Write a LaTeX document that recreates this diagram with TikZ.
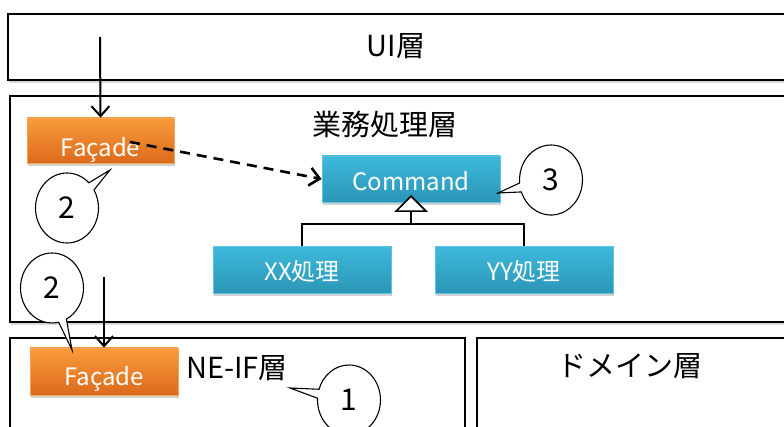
\documentclass[tikz,border=0pt]{standalone}
\usepackage{fontspec}
\setmainfont{Noto Sans CJK JP}
\usetikzlibrary{arrows.meta,shadows,shapes.callouts,shapes.geometric}
\definecolor{otop}{HTML}{F99B3B}
\definecolor{obot}{HTML}{DC6A1C}
\definecolor{oline}{HTML}{F3A45A}
\definecolor{btop}{HTML}{3EB9DB}
\definecolor{bbot}{HTML}{2B95B6}
\definecolor{bline}{HTML}{5CC4E0}
\tikzset{
  layer/.style={draw=black, line width=1.5pt, fill=white,
    drop shadow={opacity=0.3, shadow xshift=0.5pt, shadow yshift=-3pt}},
  laytext/.style={font=\fontsize{29}{32}\selectfont, inner sep=0pt},
  obox/.style={draw=oline, line width=0.8pt, top color=otop, bottom color=obot,
    text=white, minimum width=147pt, minimum height=45pt, inner sep=0pt,
    font=\fontsize{24}{28}\selectfont, text depth=0pt,
    drop shadow={opacity=0.35, shadow xshift=1pt, shadow yshift=-3pt}},
  bbox/.style={draw=bline, line width=0.8pt, top color=btop, bottom color=bbot,
    text=white, minimum width=178pt, minimum height=46pt, inner sep=0pt,
    font=\fontsize{24}{28}\selectfont, text depth=0pt,
    drop shadow={opacity=0.35, shadow xshift=1pt, shadow yshift=-3pt}},
  callnum/.style={ellipse callout, draw=black, line width=1.1pt, fill=white,
    minimum width=63pt, minimum height=70pt, inner sep=0pt,
    callout pointer width=14pt, font=\fontsize{30}{34}\selectfont},
  flow/.style={line width=2pt, -{Straight Barb[length=10pt,width=18pt,line width=2pt]}},
  depend/.style={line width=2.6pt, dash pattern=on 10pt off 7pt,
    -{Straight Barb[length=10pt,width=18pt,line width=2.6pt]}},
  inherit/.style={line width=2.3pt},
}
\begin{document}
\begin{tikzpicture}[x=1pt,y=-1pt]
\useasboundingbox (0,0) rectangle (784,427);
\clip (0,0) rectangle (784,427);
% layers
\draw[layer] (8,14) rectangle (800,80);
\node[laytext] (ui) at (396,46) {UI層};
\draw[layer] (10,96) rectangle (800,322);
\node[laytext] (biz) at (385,124) {業務処理層};
\draw[layer] (10,338) rectangle (465,440);
\node[laytext, anchor=west] (neif) at (186,368) {NE-IF層};
\draw[layer] (477,338) rectangle (800,440);
\node[laytext] (dom) at (630,366) {ドメイン層};
% boxes
\node[obox, text height=32pt] (f1) at (100.5,140.5) {Façade};
\node[obox, text height=28pt, minimum width=148pt, minimum height=47pt] (f2) at (104,371.5) {Façade};
\node[bbox, text height=24pt] (cmd) at (411,179) {Command};
\node[bbox, text height=22pt, minimum height=47pt] (xx) at (302,270) {XX処理};
\node[bbox, text height=22pt, minimum height=47pt] (yy) at (524,270) {YY処理};
% inheritance
\coordinate (j) at (411,224);
\draw[inherit] (xx.north) |- (j) -| (yy.north);
\draw[inherit] (j) -- (411,210);
\node[isosceles triangle, shape border rotate=90, draw=black, line width=1.6pt, fill=white,
  isosceles triangle apex angle=90, minimum height=15pt, minimum width=30pt, inner sep=0pt,
  anchor=apex] (tri) at (411,195) {};
% arrows
\coordinate (uistart) at (100,37);
\draw[flow] (uistart) -- (f1.north);
\coordinate (bstart) at (104,277);
\draw[flow] (bstart) -- (f2.north);
\coordinate (dstart) at (130,142);
\draw[depend] (dstart) -- (cmd.west);
% callouts
\node[callnum, callout absolute pointer={(110,170)}] (c2a) at (67,208) {2};
\node[callnum, callout absolute pointer={(72,350)}] (c2b) at (52,288) {2};
\node[callnum, callout absolute pointer={(498,193)}] (c3) at (551,180) {3};
\node[callnum, callout absolute pointer={(290,388)}] (c1) at (349,400) {1};
\end{tikzpicture}
\end{document}
